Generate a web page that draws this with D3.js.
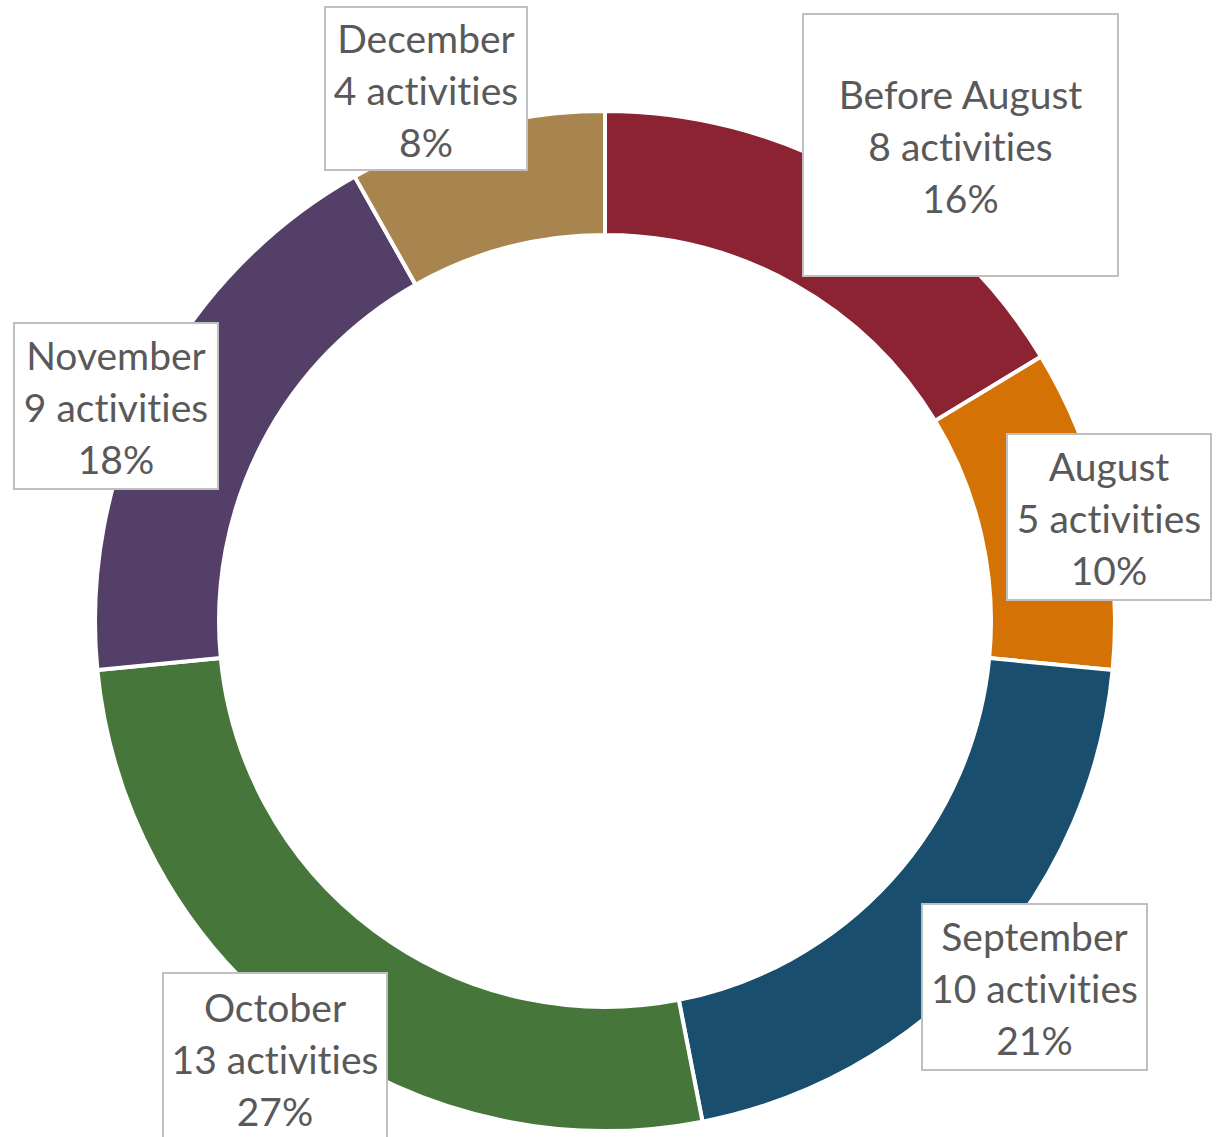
<!DOCTYPE html>
<html>
<head>
<meta charset="utf-8">
<script src="https://cdn.jsdelivr.net/npm/d3@7"></script>
<style>
  html, body { margin: 0; padding: 0; background: #fff; }
  svg { display: block; }
  .label { font-family: Lato, "Open Sans", sans-serif; fill: #595959; font-variant-ligatures: none; font-feature-settings: "liga" 0; }
</style>
</head>
<body>
<svg id="chart"></svg>
<script>
// data
const CATEGORIES = ['Before August', 'August', 'September', 'October', 'November', 'December'];
const ACTIVITIES = [8, 5, 10, 13, 9, 4];
const PERCENTS = [16, 10, 21, 27, 18, 8];

const COLORS = ['#8b2332', '#d57206', '#1a4e6e', '#46763a', '#543f69', '#a8844e'];

const WIDTH = 1220;
const HEIGHT = 1137;
const CENTER = {x: 605, y: 621};
const OUTER_R = 510;
const INNER_R = 386;

// label boxes (layout only), keyed by category
const LABEL_BOXES = {
    'Before August': {x: 803, y: 14, w: 315, h: 262},
    'August': {x: 1007, y: 434, w: 204, h: 166},
    'September': {x: 922, y: 904, w: 225, h: 166},
    'October': {x: 163, y: 973, w: 224, h: 170},
    'November': {x: 14, y: 323, w: 204, h: 166},
    'December': {x: 325, y: 7, w: 202, h: 163}
};
const FONT_SIZE = 39;
const LINE_H = 52;

const svg = d3.select('#chart')
    .attr('width', WIDTH)
    .attr('height', HEIGHT);

const rows = CATEGORIES.map((c, i) => ({name: c, value: ACTIVITIES[i], pct: PERCENTS[i], color: COLORS[i]}));

const pie = d3.pie().sort(null).value(d => d.value).startAngle(0).endAngle(2 * Math.PI);
const arc = d3.arc().innerRadius(INNER_R).outerRadius(OUTER_R);

const ring = svg.append('g').attr('transform', `translate(${CENTER.x},${CENTER.y})`);
ring.selectAll('path')
    .data(pie(rows))
    .enter().append('path')
    .attr('d', arc)
    .attr('fill', d => d.data.color)
    .attr('stroke', '#fff')
    .attr('stroke-width', 4)
    .attr('stroke-linejoin', 'miter');

// data labels
const labels = svg.selectAll('.lab')
    .data(rows)
    .enter().append('g')
    .classed('lab', true);

labels.append('rect')
    .attr('x', d => LABEL_BOXES[d.name].x)
    .attr('y', d => LABEL_BOXES[d.name].y)
    .attr('width', d => LABEL_BOXES[d.name].w)
    .attr('height', d => LABEL_BOXES[d.name].h)
    .attr('fill', '#fff')
    .attr('stroke', '#bfbfbf')
    .attr('stroke-width', 2);

labels.each(function (d) {
    const b = LABEL_BOXES[d.name];
    const cx = b.x + b.w / 2;
    const midBase = b.y + b.h / 2 + 16;
    const lines = [d.name, `${d.value} activities`, `${d.pct}%`];
    d3.select(this).selectAll('text')
        .data(lines)
        .enter().append('text')
        .classed('label', true)
        .attr('x', cx)
        .attr('y', (t, i) => midBase + (i - 1) * LINE_H)
        .attr('text-anchor', 'middle')
        .style('font-size', FONT_SIZE + 'px')
        .text(t => t);
});
</script>
</body>
</html>
